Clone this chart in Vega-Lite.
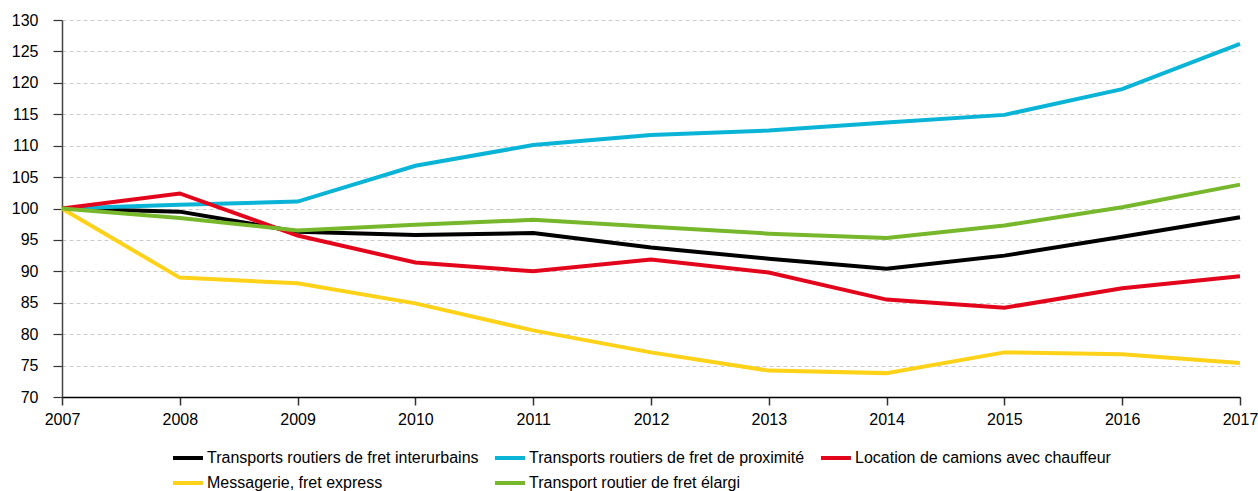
{
  "$schema": "https://vega.github.io/schema/vega-lite/v6.json",
  "width": 1178,
  "height": 377,
  "autosize": "none",
  "padding": {"left": 62, "top": 20, "right": 18, "bottom": 94},
  "background": "white",
  "config": {
    "view": {"stroke": null},
    "font": "Liberation Sans"
  },
  "data": {
    "values": [
      {"year": 2007, "serie": "Transports routiers de fret interurbains", "v": 100},
      {"year": 2008, "serie": "Transports routiers de fret interurbains", "v": 99.5},
      {"year": 2009, "serie": "Transports routiers de fret interurbains", "v": 96.3},
      {"year": 2010, "serie": "Transports routiers de fret interurbains", "v": 95.8},
      {"year": 2011, "serie": "Transports routiers de fret interurbains", "v": 96.1},
      {"year": 2012, "serie": "Transports routiers de fret interurbains", "v": 93.8},
      {"year": 2013, "serie": "Transports routiers de fret interurbains", "v": 92.0},
      {"year": 2014, "serie": "Transports routiers de fret interurbains", "v": 90.4},
      {"year": 2015, "serie": "Transports routiers de fret interurbains", "v": 92.5},
      {"year": 2016, "serie": "Transports routiers de fret interurbains", "v": 95.5},
      {"year": 2017, "serie": "Transports routiers de fret interurbains", "v": 98.6},
      {"year": 2007, "serie": "Transports routiers de fret de proximité", "v": 100},
      {"year": 2008, "serie": "Transports routiers de fret de proximité", "v": 100.6},
      {"year": 2009, "serie": "Transports routiers de fret de proximité", "v": 101.1},
      {"year": 2010, "serie": "Transports routiers de fret de proximité", "v": 106.8},
      {"year": 2011, "serie": "Transports routiers de fret de proximité", "v": 110.1},
      {"year": 2012, "serie": "Transports routiers de fret de proximité", "v": 111.7},
      {"year": 2013, "serie": "Transports routiers de fret de proximité", "v": 112.4},
      {"year": 2014, "serie": "Transports routiers de fret de proximité", "v": 113.7},
      {"year": 2015, "serie": "Transports routiers de fret de proximité", "v": 114.9},
      {"year": 2016, "serie": "Transports routiers de fret de proximité", "v": 119.0},
      {"year": 2017, "serie": "Transports routiers de fret de proximité", "v": 126.2},
      {"year": 2007, "serie": "Location de camions avec chauffeur", "v": 100},
      {"year": 2008, "serie": "Location de camions avec chauffeur", "v": 102.4},
      {"year": 2009, "serie": "Location de camions avec chauffeur", "v": 95.7},
      {"year": 2010, "serie": "Location de camions avec chauffeur", "v": 91.4},
      {"year": 2011, "serie": "Location de camions avec chauffeur", "v": 90.0},
      {"year": 2012, "serie": "Location de camions avec chauffeur", "v": 91.9},
      {"year": 2013, "serie": "Location de camions avec chauffeur", "v": 89.8},
      {"year": 2014, "serie": "Location de camions avec chauffeur", "v": 85.5},
      {"year": 2015, "serie": "Location de camions avec chauffeur", "v": 84.2},
      {"year": 2016, "serie": "Location de camions avec chauffeur", "v": 87.3},
      {"year": 2017, "serie": "Location de camions avec chauffeur", "v": 89.2},
      {"year": 2007, "serie": "Messagerie, fret express", "v": 100},
      {"year": 2008, "serie": "Messagerie, fret express", "v": 89.0},
      {"year": 2009, "serie": "Messagerie, fret express", "v": 88.1},
      {"year": 2010, "serie": "Messagerie, fret express", "v": 84.9},
      {"year": 2011, "serie": "Messagerie, fret express", "v": 80.6},
      {"year": 2012, "serie": "Messagerie, fret express", "v": 77.1},
      {"year": 2013, "serie": "Messagerie, fret express", "v": 74.2},
      {"year": 2014, "serie": "Messagerie, fret express", "v": 73.8},
      {"year": 2015, "serie": "Messagerie, fret express", "v": 77.1},
      {"year": 2016, "serie": "Messagerie, fret express", "v": 76.8},
      {"year": 2017, "serie": "Messagerie, fret express", "v": 75.4},
      {"year": 2007, "serie": "Transport routier de fret élargi", "v": 100},
      {"year": 2008, "serie": "Transport routier de fret élargi", "v": 98.5},
      {"year": 2009, "serie": "Transport routier de fret élargi", "v": 96.5},
      {"year": 2010, "serie": "Transport routier de fret élargi", "v": 97.4},
      {"year": 2011, "serie": "Transport routier de fret élargi", "v": 98.2},
      {"year": 2012, "serie": "Transport routier de fret élargi", "v": 97.1},
      {"year": 2013, "serie": "Transport routier de fret élargi", "v": 96.0},
      {"year": 2014, "serie": "Transport routier de fret élargi", "v": 95.3},
      {"year": 2015, "serie": "Transport routier de fret élargi", "v": 97.3},
      {"year": 2016, "serie": "Transport routier de fret élargi", "v": 100.2},
      {"year": 2017, "serie": "Transport routier de fret élargi", "v": 103.8}
    ]
  },
  "mark": {"type": "line", "strokeWidth": 4, "strokeJoin": "miter"},
  "encoding": {
    "x": {
      "field": "year", "type": "quantitative",
      "scale": {"domain": [2007, 2017], "nice": false, "zero": false},
      "axis": {
        "title": null, "format": "d", "values": [2007,2008,2009,2010,2011,2012,2013,2014,2015,2016,2017],
        "grid": false, "domainColor": "#000", "domainWidth": 1.5,
        "tickColor": "#333", "tickSize": 8, "tickWidth": 1.5,
        "labelFontSize": 16, "labelColor": "#000", "labelPadding": 6, "labelFlush": false
      }
    },
    "y": {
      "field": "v", "type": "quantitative",
      "scale": {"domain": [70, 130], "nice": false, "zero": false},
      "axis": {
        "title": null, "values": [70,75,80,85,90,95,100,105,110,115,120,125,130],
        "grid": true, "gridColor": "#cccccc", "gridDash": [4, 3], "gridWidth": 1,
        "domainColor": "#444", "domainWidth": 1.5,
        "tickColor": "#333", "tickSize": 9, "tickWidth": 1.2,
        "labelFontSize": 16, "labelColor": "#000", "labelPadding": 15
      }
    },
    "color": {
      "field": "serie", "type": "nominal",
      "scale": {
        "domain": ["Transports routiers de fret interurbains", "Transports routiers de fret de proximité", "Location de camions avec chauffeur", "Messagerie, fret express", "Transport routier de fret élargi"],
        "range": ["#000000", "#0ab4d6", "#e3051b", "#fdd219", "#77b72c"]
      },
      "legend": {
        "title": null, "orient": "none", "legendX": 109, "legendY": 421,
        "direction": "horizontal", "columns": 3, "columnPadding": 8, "rowPadding": -11,
        "symbolType": "stroke", "symbolSize": 900, "symbolStrokeWidth": 4,
        "labelFontSize": 16, "labelColor": "#000", "labelOffset": 2, "padding": 0,
        "labelLimit": 500
      }
    }
  }
}
